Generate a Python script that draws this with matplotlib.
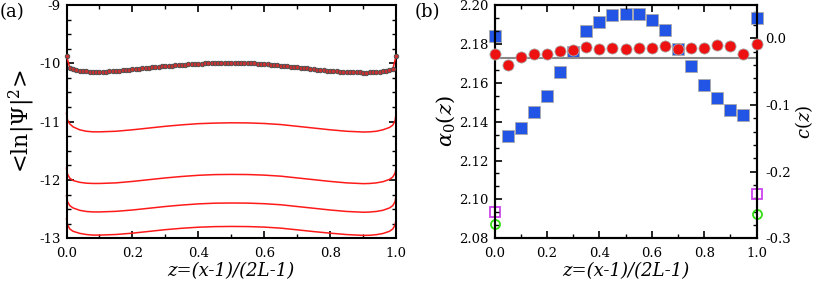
import numpy as np
import matplotlib
matplotlib.use("Agg")
import matplotlib.pyplot as plt
from matplotlib.ticker import MultipleLocator, AutoMinorLocator

plt.rcParams['font.family'] = 'DejaVu Serif'
plt.rcParams['mathtext.fontset'] = 'dejavuserif'
plt.rcParams['axes.unicode_minus'] = False

# ---- panel (a) data ----
z_top = np.round(np.arange(0, 101) * 0.01, 2)
lnpsi_top = [-9.87, -10.08, -10.10, -10.115, -10.125, -10.135, -10.14, -10.145, -10.147, -10.147,
             -10.146, -10.145, -10.143, -10.14, -10.137, -10.133, -10.128, -10.123, -10.118, -10.112,
             -10.106, -10.10, -10.094, -10.088, -10.082, -10.076, -10.07, -10.064, -10.058, -10.053,
             -10.048, -10.043, -10.038, -10.033, -10.029, -10.025, -10.021, -10.017, -10.013, -10.01,
             -10.007, -10.004, -10.001, -9.999, -9.997, -9.995, -9.994, -9.993, -9.992, -9.992,
             -9.992, -9.992, -9.993, -9.994, -9.996, -9.998, -10.0, -10.003, -10.006, -10.01,
             -10.014, -10.018, -10.023, -10.028, -10.033, -10.038, -10.044, -10.05, -10.056, -10.062,
             -10.068, -10.075, -10.082, -10.088, -10.095, -10.101, -10.107, -10.113, -10.119, -10.124,
             -10.129, -10.134, -10.138, -10.142, -10.146, -10.149, -10.152, -10.154, -10.156, -10.157,
             -10.158, -10.158, -10.157, -10.155, -10.152, -10.147, -10.14, -10.13, -10.115, -10.10,
             -9.87]

z_grid = [0, 0.003, 0.01, 0.02, 0.04, 0.06, 0.08, 0.10, 0.15, 0.20, 0.25, 0.30, 0.35, 0.40, 0.45,
          0.50, 0.55, 0.60, 0.65, 0.70, 0.75, 0.80, 0.85, 0.90, 0.92, 0.94, 0.96, 0.98, 0.99, 0.997, 1.0]
lnpsi_11 = [-10.86, -10.97, -11.04, -11.09, -11.14, -11.165, -11.175, -11.175, -11.165, -11.14, -11.11,
            -11.08, -11.055, -11.035, -11.025, -11.02, -11.022, -11.032, -11.05, -11.08, -11.11,
            -11.14, -11.165, -11.178, -11.175, -11.165, -11.14, -11.10, -11.06, -10.98, -10.86]
lnpsi_12 = [-11.80, -11.90, -11.97, -12.01, -12.04, -12.055, -12.06, -12.06, -12.05, -12.025, -11.995,
            -11.965, -11.94, -11.92, -11.908, -11.905, -11.907, -11.917, -11.935, -11.965, -11.995,
            -12.025, -12.05, -12.063, -12.06, -12.05, -12.03, -11.99, -11.95, -11.88, -11.80]
lnpsi_125 = [-12.27, -12.37, -12.44, -12.48, -12.52, -12.54, -12.548, -12.548, -12.538, -12.515, -12.485,
             -12.455, -12.43, -12.41, -12.398, -12.395, -12.397, -12.407, -12.425, -12.455, -12.485,
             -12.515, -12.54, -12.553, -12.55, -12.54, -12.52, -12.48, -12.44, -12.37, -12.27]
lnpsi_13 = [-12.67, -12.77, -12.84, -12.88, -12.915, -12.935, -12.945, -12.945, -12.935, -12.912, -12.882,
            -12.852, -12.828, -12.81, -12.8, -12.797, -12.799, -12.808, -12.826, -12.855, -12.885,
            -12.912, -12.936, -12.95, -12.948, -12.938, -12.918, -12.88, -12.84, -12.77, -12.67]

# ---- panel (b) data ----
z_b = np.round(np.arange(0, 21) * 0.05, 2)
alpha0 = [2.1746, 2.1689, 2.1734, 2.1749, 2.1749, 2.1761, 2.1767, 2.1782, 2.1775, 2.1777, 2.1773,
          2.1777, 2.1780, 2.1787, 2.1775, 2.1777, 2.1777, 2.1792, 2.1790, 2.1749, 2.1801]
c_z = [0.003, -0.147, -0.135, -0.111, -0.086, -0.050, -0.021, 0.011, 0.024, 0.035, 0.037,
       0.036, 0.028, 0.012, -0.016, -0.041, -0.070, -0.089, -0.107, -0.115, 0.030]
alpha_ref = 2.1729
z_end = [0.0, 1.0]
alpha_end = [2.0872, 2.0927]
c_end = [-0.261, -0.233]

fig = plt.figure(figsize=(8.17, 2.87), dpi=100)
axa = fig.add_axes([0.0814, 0.1697, 0.4034, 0.813])
axb = fig.add_axes([0.6053, 0.1697, 0.3207, 0.813])

red = '#ff1a1a'
for vals in [lnpsi_11, lnpsi_12, lnpsi_125, lnpsi_13]:
    axa.plot(z_grid, vals, color=red, lw=1.1, clip_on=False)
axa.plot(z_top, lnpsi_top, color=red, lw=1.1, marker='o', ms=3.2, mfc='#d03030',
         mec='#505050', mew=0.7, clip_on=False, zorder=3)
axa.set_xlim(0, 1)
axa.set_ylim(-13, -9)
axa.xaxis.set_major_locator(MultipleLocator(0.2))
axa.xaxis.set_minor_locator(MultipleLocator(0.1))
axa.yaxis.set_major_locator(MultipleLocator(1))
axa.yaxis.set_minor_locator(MultipleLocator(0.25))
axa.xaxis.set_major_formatter(matplotlib.ticker.FormatStrFormatter('%.1f'))
axa.set_ylabel(r'<ln|$\mathit{\Psi}$|$^2$>', fontsize=16, labelpad=2)
axa.set_xlabel('z=(x-1)/(2L-1)', fontsize=13, fontstyle='italic', labelpad=2)

ax2 = axb.twinx()
axb.set_zorder(ax2.get_zorder() + 1)
axb.patch.set_visible(False)
axb.axhline(alpha_ref, color='#888888', lw=1.5, zorder=1)
axb.plot(z_b, alpha0, ls='none', marker='o', ms=8, mfc='#ee1111', mec='#aaaaaa', mew=0.6,
         clip_on=False, zorder=3)
axb.plot(z_end, alpha_end, ls='none', marker='o', ms=6.5, mfc='none', mec='#33dd11', mew=1.3,
         clip_on=False)
ax2.plot(z_b, c_z, ls='none', marker='s', ms=8, mfc='#2255e6', mec='#aaaaaa', mew=0.6,
         clip_on=False)
ax2.plot(z_end, c_end, ls='none', marker='s', ms=7.5, mfc='none', mec='#cc44ee', mew=1.3,
         clip_on=False)
axb.set_xlim(0, 1)
axb.set_ylim(2.08, 2.20)
ax2.set_ylim(-0.3, 0.05)
axb.xaxis.set_major_locator(MultipleLocator(0.2))
axb.xaxis.set_minor_locator(MultipleLocator(0.1))
axb.xaxis.set_major_formatter(matplotlib.ticker.FormatStrFormatter('%.1f'))
axb.yaxis.set_major_locator(MultipleLocator(0.02))
axb.yaxis.set_minor_locator(AutoMinorLocator(3))
axb.yaxis.set_major_formatter(matplotlib.ticker.FormatStrFormatter('%.2f'))
ax2.yaxis.set_major_locator(MultipleLocator(0.1))
ax2.yaxis.set_minor_locator(AutoMinorLocator(5))
ax2.yaxis.set_major_formatter(matplotlib.ticker.FormatStrFormatter('%.1f'))
axb.set_ylabel(r'$\alpha_0(z)$', fontsize=15, labelpad=2)
ax2.set_ylabel(r'$c(z)$', fontsize=13, labelpad=2)
axb.set_xlabel('z=(x-1)/(2L-1)', fontsize=13, fontstyle='italic', labelpad=2)

for ax in [axa, axb]:
    ax.tick_params(which='both', direction='in', top=True, labelsize=9.5)
    ax.tick_params(axis='x', pad=6)
    ax.tick_params(axis='y', pad=4)
    ax.tick_params(which='major', length=5, width=1.2)
    ax.tick_params(which='minor', length=3, width=1.0)
    for sp in ax.spines.values():
        sp.set_linewidth(1.5)
axa.tick_params(which='both', right=True)
ax2.tick_params(which='both', direction='in', labelsize=9.5, pad=6)
ax2.tick_params(which='major', length=5, width=1.2)
ax2.tick_params(which='minor', length=3, width=1.0)
for sp in ax2.spines.values():
    sp.set_linewidth(1.5)

fig.text(0.0, 0.99, '(a)', fontsize=13, va='top', ha='left')
fig.text(0.508, 0.99, '(b)', fontsize=13, va='top', ha='left')

fig.savefig('out.png', dpi=100)
